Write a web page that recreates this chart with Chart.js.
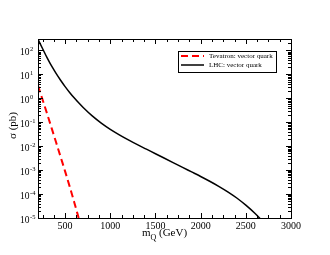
<!DOCTYPE html>
<html>
<head>
<meta charset="utf-8">
<script src="https://cdn.jsdelivr.net/npm/chart.js@4.4.0/dist/chart.umd.min.js"></script>
<style>
  html, body { margin: 0; padding: 0; background: #fff; }
  #wrap { width: 330px; height: 255px; }
</style>
</head>
<body>
<div id="wrap"><canvas id="myChart" width="330" height="255"></canvas></div>
<script>
// масса кварка, GeV
const massTevatron = [200, 250, 300, 350, 400, 450, 500, 550, 600, 650];
const sigmaTevatron = [3.4, 0.89, 0.23, 0.058, 0.0145, 0.0036, 0.00089, 0.00021, 0.000047, 0.00001];

const massLHC = [200, 250, 300, 350, 400, 450, 500, 550, 600, 650, 700, 800, 900, 1000, 1100, 1200, 1300, 1400, 1500,
  1600, 1700, 1800, 1900, 2000, 2100, 2200, 2300, 2400, 2500, 2600, 2700];
const sigmaLHC = [288, 120, 50.1, 22.4, 11.0, 5.69, 3.09, 1.76, 1.047, 0.646, 0.412, 0.184, 0.0923, 0.0507, 0.0299,
  0.0184, 0.0116, 0.0075, 0.00484, 0.00313, 0.00202, 0.0013, 0.000841, 0.000543, 0.000343, 0.000211, 0.000124,
  0.0000684, 0.0000343, 0.0000157, 0.0000065];

const xTicks = [500, 1000, 1500, 2000, 2500, 3000];
const xMinorStep = 125;
const yExponents = [-5, -4, -3, -2, -1, 0, 1, 2];

const seriesLabels = ['Tevatron: vector quark', 'LHC: vector quark'];

const serif = '"Liberation Serif", "DejaVu Serif", serif';

/**
 * Рамка, тики внутрь, подписи осей и легенда в стиле xmgrace
 */
const framePlugin = {
  id: 'frame',
  afterDraw(chart) {
    const c = chart.ctx;
    const a = chart.chartArea;
    const xs = chart.scales.x;
    const ys = chart.scales.y;
    c.save();
    c.strokeStyle = '#000';
    c.fillStyle = '#000';
    c.lineWidth = 1;

    // рамка
    c.strokeRect(Math.round(a.left) + 0.5, Math.round(a.top) + 0.5,
      Math.round(a.right - a.left), Math.round(a.bottom - a.top));

    const tick = (x1, y1, x2, y2) => {
      c.beginPath();
      c.moveTo(x1, y1);
      c.lineTo(x2, y2);
      c.stroke();
    };

    // ось X
    for (let v = 250; v <= xs.max; v += xMinorStep) {
      const px = Math.round(xs.getPixelForValue(v)) + 0.5;
      const len = xTicks.includes(v) ? 5 : 3;
      tick(px, a.bottom, px, a.bottom - len);
      tick(px, a.top, px, a.top + len);
    }
    c.font = '10px ' + serif;
    c.textAlign = 'center';
    c.textBaseline = 'alphabetic';
    xTicks.forEach(v => {
      c.fillText(String(v), xs.getPixelForValue(v), a.bottom + 10.5);
    });

    // ось Y (логарифм)
    yExponents.forEach(e => {
      for (let m = 1; m <= 9; m++) {
        const v = m * Math.pow(10, e);
        if (v < ys.min || v > ys.max) continue;
        const py = Math.round(ys.getPixelForValue(v)) + 0.5;
        const len = m === 1 ? 5 : 3;
        tick(a.left, py, a.left + len, py);
        tick(a.right, py, a.right - len, py);
      }
    });
    c.textAlign = 'left';
    yExponents.forEach(e => {
      const py = ys.getPixelForValue(Math.pow(10, e));
      c.font = '9.5px ' + serif;
      c.fillText('10', 20, py + 5);
      const w = c.measureText('10').width;
      c.font = '6.5px ' + serif;
      c.fillText(String(e), 20 + w + 0.5, py + 0.5);
    });

    // подпись оси X: m_Q (GeV)
    c.font = '11px ' + serif;
    const wm = c.measureText('m').width;
    const wr = c.measureText(' (GeV)').width;
    c.font = '8px ' + serif;
    const wq = c.measureText('Q').width;
    let x0 = (a.left + a.right) / 2 - (wm + wq + wr) / 2;
    c.font = '11px ' + serif;
    c.fillText('m', x0, 235.5);
    c.font = '8px ' + serif;
    c.fillText('Q', x0 + wm, 239.5);
    c.font = '11px ' + serif;
    c.fillText(' (GeV)', x0 + wm + wq, 235.5);

    // подпись оси Y
    c.save();
    c.translate(16, (a.top + a.bottom) / 2 - 3);
    c.rotate(-Math.PI / 2);
    c.textAlign = 'center';
    c.font = '11px ' + serif;
    c.fillText('σ (pb)', 0, 0);
    c.restore();

    // легенда
    const lx = 178.5, ly = 51.5, lw = 98, lh = 21;
    c.fillStyle = '#fff';
    c.fillRect(lx, ly, lw, lh);
    c.strokeStyle = '#000';
    c.strokeRect(lx, ly, lw, lh);
    c.font = '7px ' + serif;
    c.textAlign = 'left';
    c.textBaseline = 'middle';
    chart.data.datasets.forEach((ds, i) => {
      const yy = 56 + i * 9;
      c.strokeStyle = ds.borderColor;
      c.lineWidth = ds.borderWidth;
      c.setLineDash(ds.borderDash || []);
      tick(181, yy, 204, yy);
      c.setLineDash([]);
      c.fillStyle = '#000';
      c.fillText(ds.label, 209, yy);
    });
    c.restore();
  }
};

const ctx = document.getElementById('myChart');
const xsChart = new Chart(ctx, {
  type: 'line',
  data: {
    datasets: [
      {
        label: seriesLabels[0],
        data: massTevatron.map((m, i) => ({ x: m, y: sigmaTevatron[i] })),
        borderColor: '#ff0000',
        borderWidth: 2,
        borderDash: [7, 4],
        pointRadius: 0,
        cubicInterpolationMode: 'monotone'
      },
      {
        label: seriesLabels[1],
        data: massLHC.map((m, i) => ({ x: m, y: sigmaLHC[i] })),
        borderColor: '#000000',
        borderWidth: 1.5,
        pointRadius: 0,
        cubicInterpolationMode: 'monotone'
      }
    ]
  },
  options: {
    responsive: false,
    animation: false,
    layout: { padding: { left: 38, right: 39, top: 39, bottom: 37 } },
    plugins: {
      legend: { display: false },
      tooltip: { enabled: false }
    },
    scales: {
      x: { type: 'linear', min: 200, max: 3000, display: false },
      y: { type: 'logarithmic', min: 1e-5, max: 300, display: false }
    }
  },
  plugins: [framePlugin]
});
</script>
</body>
</html>
